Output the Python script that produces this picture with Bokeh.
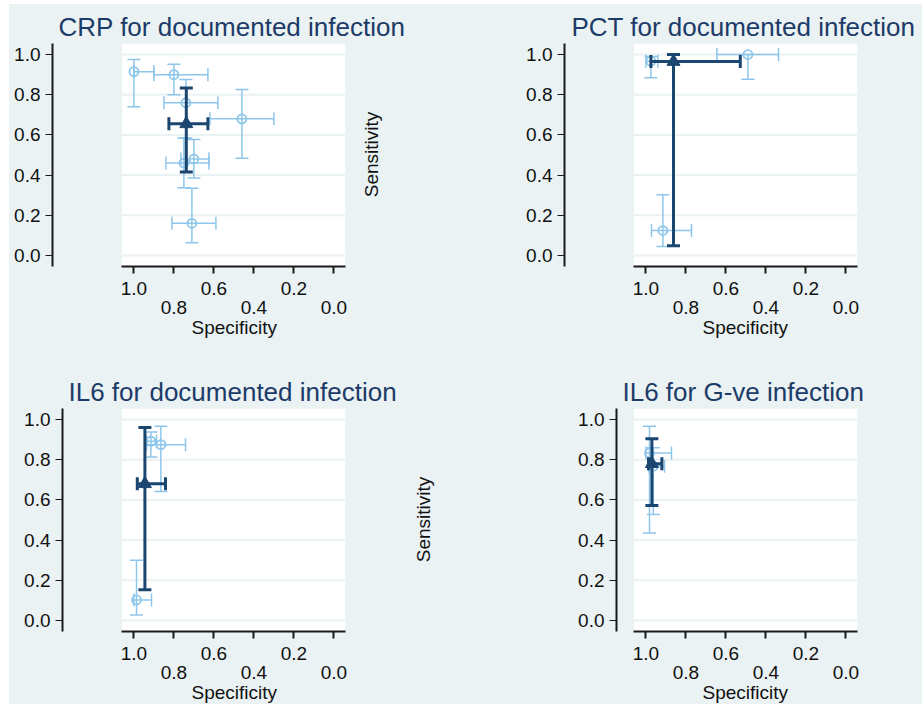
from math import pi
from bokeh.plotting import figure
from bokeh.models import (Range1d, LinearAxis, FixedTicker, PrintfTickFormatter,
                          ColumnDataSource, Whisker, TeeHead, Title, Spacer)
from bokeh.layouts import row, column
from bokeh.embed import file_html
from bokeh.resources import INLINE

# ---------------- data ----------------
tick_values = [0.0, 0.2, 0.4, 0.6, 0.8, 1.0]
upper_row_ticks = [1.0, 0.6, 0.2]
lower_row_ticks = [0.8, 0.4, 0.0]

crp_spec    = [1.00, 0.80, 0.74, 0.75, 0.70, 0.71, 0.46]
crp_spec_lo = [0.90, 0.63, 0.58, 0.625, 0.625, 0.59, 0.30]
crp_spec_hi = [1.00, 0.90, 0.85, 0.84, 0.765, 0.81, 0.62]
crp_sens    = [0.915, 0.90, 0.76, 0.46, 0.48, 0.16, 0.68]
crp_sens_lo = [0.74, 0.80, 0.585, 0.337, 0.385, 0.063, 0.484]
crp_sens_hi = [0.975, 0.952, 0.876, 0.585, 0.577, 0.335, 0.826]
crp_sum = dict(spec=[0.738], spec_lo=[0.63], spec_hi=[0.825],
               sens=[0.655], sens_lo=[0.415], sens_hi=[0.834])

pct_spec    = [0.975, 0.49, 0.915]
pct_spec_lo = [0.94, 0.337, 0.772]
pct_spec_hi = [1.0, 0.645, 0.972]
pct_sens    = [0.967, 1.0, 0.124]
pct_sens_lo = [0.884, 0.877, 0.045]
pct_sens_hi = [0.99, 1.0, 0.302]
pct_sum = dict(spec=[0.862], spec_lo=[0.528], spec_hi=[0.975],
               sens=[0.965], sens_lo=[0.048], sens_hi=[1.0])

il6_spec    = [0.915, 0.865, 0.987]
il6_spec_lo = [0.887, 0.742, 0.912]
il6_spec_hi = [0.937, 0.937, 1.0]
il6_sens    = [0.892, 0.875, 0.102]
il6_sens_lo = [0.813, 0.642, 0.027]
il6_sens_hi = [0.938, 0.967, 0.30]
il6_sum = dict(spec=[0.945], spec_lo=[0.842], spec_hi=[0.983],
               sens=[0.68], sens_lo=[0.153], sens_hi=[0.96])

gneg_spec    = [0.982, 0.963]
gneg_spec_lo = [0.872, 0.907]
gneg_spec_hi = [1.0, 0.987]
gneg_sens    = [0.833, 0.768]
gneg_sens_lo = [0.435, 0.527]
gneg_sens_hi = [0.967, 0.86]
gneg_sum = dict(spec=[0.97], spec_lo=[0.92], spec_hi=[0.987],
                sens=[0.78], sens_lo=[0.572], sens_hi=[0.905])

titles = ["CRP for documented infection", "PCT for documented infection",
          "IL6 for documented infection", "IL6 for G-ve infection"]
x_title = "Specificity"
y_title = "Sensitivity"

# ---------------- style ----------------
BG = "#EAF2F3"
LIGHT = "#8EC6EB"
DARK = "#1B4670"
TITLE_C = "#1C3B68"
AXIS_C = "#1a1a1a"
TEXT_C = "#111111"
FONT = "Liberation Sans"
X_END = -0.058
X_WHITE = 1.06
Y_START, Y_END = -0.055, 1.055
PX_PER_UNIT = 200.0
YTITLE_START = 0.29   # where the rotated y title begins (it runs upwards from here)


def make_panel(title, studies, summary, W, H, mbl, mbr, mbt, mbb, title_offset,
               xtitle_offset, ytitle_standoff=None):
    fw = W - mbl - mbr
    x_start = X_END + fw / PX_PER_UNIT
    p = figure(width=W, height=H, x_range=Range1d(x_start, X_END),
               y_range=Range1d(Y_START, Y_END),
               min_border_left=mbl, min_border_right=mbr,
               min_border_top=mbt, min_border_bottom=mbb,
               toolbar_location=None, output_backend="svg",
               x_axis_location=None, y_axis_location=None, title=title)
    p.background_fill_color = BG
    p.border_fill_color = BG
    p.outline_line_color = None
    for g in p.grid:
        g.visible = False

    p.title.align = "left"
    p.title.offset = title_offset
    p.title.standoff = 3
    p.title.text_font = FONT
    p.title.text_font_size = "26px"
    p.title.text_font_style = "normal"
    p.title.text_color = TITLE_C

    # white plot region + light grid lines
    p.quad(left=X_WHITE, right=X_END, bottom=Y_START, top=Y_END,
           fill_color="white", line_color=None, level="image")
    p.segment(x0=X_WHITE, x1=X_END, y0=tick_values, y1=tick_values,
              line_color=BG, line_width=2, level="image")

    # y axis
    yax = LinearAxis(ticker=FixedTicker(ticks=tick_values, minor_ticks=[]),
                     formatter=PrintfTickFormatter(format="%.1f"))
    yax.axis_line_color = AXIS_C
    yax.axis_line_width = 2
    yax.major_tick_line_color = AXIS_C
    yax.major_tick_out = 7
    yax.major_tick_in = 0
    yax.minor_tick_out = 0
    yax.major_label_standoff = 5
    yax.major_label_text_font = FONT
    yax.major_label_text_font_size = "19px"
    yax.major_label_text_color = TEXT_C
    p.add_layout(yax, "left")

    # x axis, upper label row
    xa1 = LinearAxis(ticker=FixedTicker(ticks=upper_row_ticks, minor_ticks=lower_row_ticks),
                     formatter=PrintfTickFormatter(format="%.1f"),
                     bounds=(X_END, X_WHITE))
    xa1.axis_line_color = AXIS_C
    xa1.axis_line_width = 2
    xa1.major_tick_line_color = AXIS_C
    xa1.minor_tick_line_color = AXIS_C
    xa1.major_tick_line_width = 2
    xa1.minor_tick_line_width = 2
    xa1.major_tick_out = 7
    xa1.minor_tick_out = 7
    xa1.major_tick_in = 0
    xa1.minor_tick_in = 0
    xa1.major_label_standoff = 8
    xa1.major_label_text_font = FONT
    xa1.major_label_text_font_size = "19px"
    xa1.major_label_text_color = TEXT_C
    p.add_layout(xa1, "below")

    # x axis, lower label row
    xa2 = LinearAxis(ticker=FixedTicker(ticks=lower_row_ticks, minor_ticks=[]),
                     formatter=PrintfTickFormatter(format="%.1f"),
                     bounds=(X_END, X_WHITE))
    xa2.axis_line_color = None
    xa2.major_tick_line_color = None
    xa2.major_tick_out = 0
    xa2.major_tick_in = 0
    xa2.minor_tick_out = 0
    xa2.minor_tick_in = 0
    xa2.major_label_standoff = 3
    xa2.major_label_text_font = FONT
    xa2.major_label_text_font_size = "19px"
    xa2.major_label_text_color = TEXT_C
    p.add_layout(xa2, "below")

    # x title, centred under the white plot region
    p.add_layout(Title(text=x_title, align="left", offset=xtitle_offset, standoff=-3,
                       text_font=FONT, text_font_size="19px", text_font_style="normal",
                       text_color=TEXT_C), "below")

    # y title "Sensitivity", standing well to the right of the plot region
    if ytitle_standoff is not None:
        sax = LinearAxis(ticker=FixedTicker(ticks=[YTITLE_START], minor_ticks=[]),
                         major_label_overrides={YTITLE_START: y_title})
        sax.axis_line_color = None
        sax.major_tick_line_color = None
        sax.major_tick_out = 0
        sax.major_tick_in = 0
        sax.minor_tick_out = 0
        sax.minor_tick_in = 0
        sax.major_label_orientation = pi / 2
        sax.major_label_standoff = ytitle_standoff
        sax.major_label_text_font = FONT
        sax.major_label_text_font_size = "19px"
        sax.major_label_text_color = TEXT_C
        p.add_layout(sax, "right")

    src = ColumnDataSource(studies)
    ssrc = ColumnDataSource(summary)

    for s, col, lw, lvl in ((src, LIGHT, 1.5, "underlay"), (ssrc, DARK, 3, "annotation")):
        p.add_layout(Whisker(source=s, base="sens", lower="spec_lo", upper="spec_hi",
                             dimension="width", line_color=col, line_width=lw, level=lvl,
                             upper_head=TeeHead(size=13, line_color=col, line_width=lw),
                             lower_head=TeeHead(size=13, line_color=col, line_width=lw)))
        p.add_layout(Whisker(source=s, base="spec", lower="sens_lo", upper="sens_hi",
                             dimension="height", line_color=col, line_width=lw, level=lvl,
                             upper_head=TeeHead(size=13, line_color=col, line_width=lw),
                             lower_head=TeeHead(size=13, line_color=col, line_width=lw)))

    p.scatter("spec", "sens", source=src, marker="circle", size=9, fill_color=None,
              line_color=LIGHT, line_width=1.8)
    p.scatter("spec", "sens", source=ssrc, marker="triangle", size=13,
              fill_color=DARK, line_color=DARK, level="overlay")
    return p


def studies_dict(spec, spec_lo, spec_hi, sens, sens_lo, sens_hi):
    return dict(spec=spec, spec_lo=spec_lo, spec_hi=spec_hi,
                sens=sens, sens_lo=sens_lo, sens_hi=sens_hi)


p1 = make_panel(titles[0], studies_dict(crp_spec, crp_spec_lo, crp_spec_hi, crp_sens, crp_sens_lo, crp_sens_hi),
                crp_sum, 451, 348, 43, 115, 39, 86, 6, 139, ytitle_standoff=26)
p2 = make_panel(titles[1], studies_dict(pct_spec, pct_spec_lo, pct_spec_hi, pct_sens, pct_sens_lo, pct_sens_hi),
                pct_sum, 462, 348, 104, 65, 39, 86, 7, 138)
p3 = make_panel(titles[2], studies_dict(il6_spec, il6_spec_lo, il6_spec_hi, il6_sens, il6_sens_lo, il6_sens_hi),
                il6_sum, 451, 352, 53, 115, 56, 73, 6, 129, ytitle_standoff=78)
p4 = make_panel(titles[3], studies_dict(gneg_spec, gneg_spec_lo, gneg_spec_hi, gneg_sens, gneg_sens_lo, gneg_sens_hi),
                gneg_sum, 462, 352, 156, 65, 56, 73, 6, 86)

bg_style = {"background-color": BG}
grid = column(row(p1, p2, styles=bg_style), row(p3, p4, styles=bg_style), styles=bg_style)
layout = column(Spacer(width=922, height=4), row(Spacer(width=9, height=700), grid))
open("out.html", "w").write(file_html(layout, INLINE))
